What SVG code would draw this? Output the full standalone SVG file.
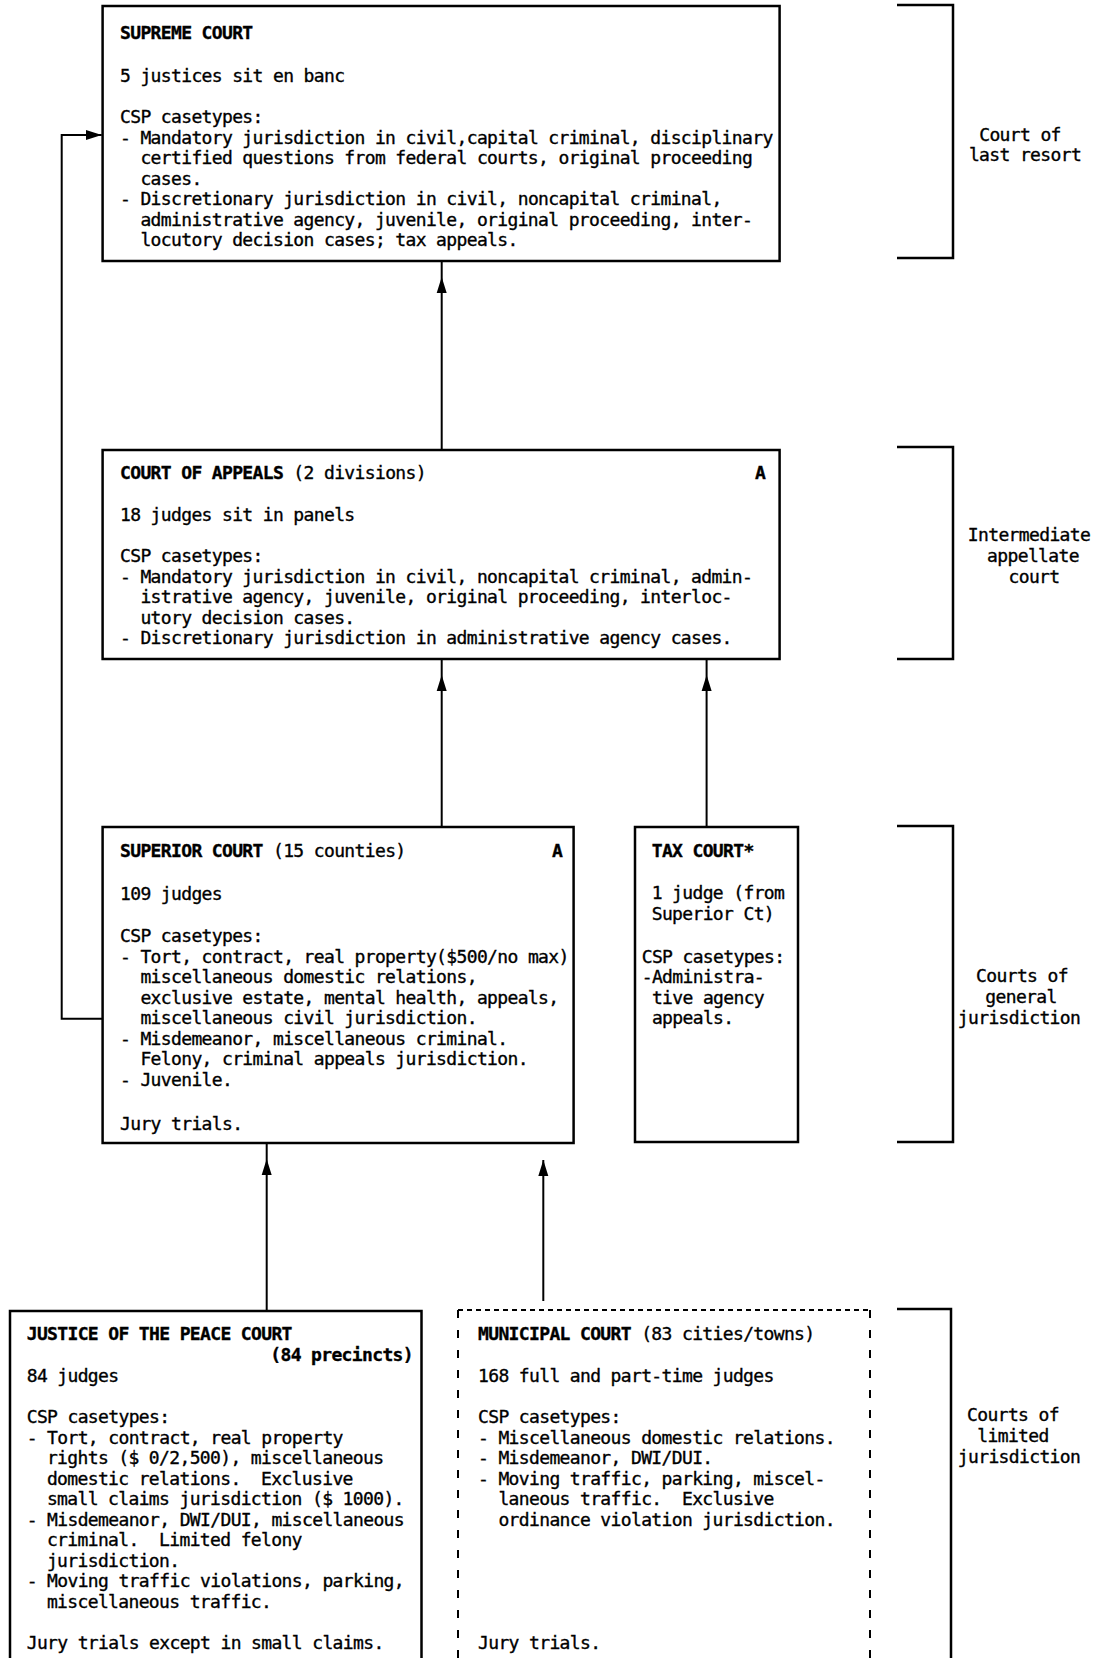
<svg xmlns="http://www.w3.org/2000/svg" width="1098" height="1658" viewBox="0 0 1098 1658">
  <style>
    text { font-family: "DejaVu Sans Mono", "Liberation Mono", monospace; font-size: 18px; letter-spacing: -0.64px; fill: #000; stroke: #000; stroke-width: 0.35px; white-space: pre; }
    .b { font-weight: bold; }
    .lbl { text-anchor: middle; }
    .box { fill: #fff; stroke: #000; stroke-width: 2.5; }
    .brk { fill: none; stroke: #000; stroke-width: 2.5; }
    .ln { fill: none; stroke: #000; stroke-width: 2; }
    .dh { fill: none; stroke: #000; stroke-width: 2; stroke-dasharray: 5 4; }
    .dv { fill: none; stroke: #000; stroke-width: 2; stroke-dasharray: 8 12; }
  </style>
  <defs>
    <marker id="arrow" markerUnits="userSpaceOnUse" markerWidth="17" markerHeight="12" refX="16" refY="6" orient="auto">
      <path d="M0,1 L16,6 L0,11 z" fill="#000"/>
    </marker>
  </defs>
  <rect width="1098" height="1658" fill="#fff"/>

  <!-- connectors -->
  <g id="connectors">
    <path class="ln" d="M441.7,450 V277" marker-end="url(#arrow)"/>
    <path class="ln" d="M441.7,277 V261"/>
    <path class="ln" d="M102.6,1018.7 H61.7 V135 H101.7" marker-end="url(#arrow)"/>
    <path class="ln" d="M441.7,827 V675" marker-end="url(#arrow)"/>
    <path class="ln" d="M441.7,675 V659"/>
    <path class="ln" d="M706.6,827 V675" marker-end="url(#arrow)"/>
    <path class="ln" d="M706.6,675 V659"/>
    <path class="ln" d="M266.7,1311 V1159" marker-end="url(#arrow)"/>
    <path class="ln" d="M266.7,1159 V1143"/>
    <path class="ln" d="M543.3,1301 V1160" marker-end="url(#arrow)"/>
  </g>

  <!-- tier brackets and their labels -->
  <g id="tier-last-resort">
    <path class="brk" d="M897,5 H953 V258 H897"/>
    <text class="lbl" x="1020" y="141">Court of</text>
    <text class="lbl" x="1025" y="161">last resort</text>
  </g>
  <g id="tier-intermediate">
    <path class="brk" d="M897,447 H953 V659 H897"/>
    <text class="lbl" x="1029" y="541">Intermediate</text>
    <text class="lbl" x="1033" y="562">appellate</text>
    <text class="lbl" x="1034" y="583">court</text>
  </g>
  <g id="tier-general">
    <path class="brk" d="M897,826 H953 V1142 H897"/>
    <text class="lbl" x="1022" y="982">Courts of</text>
    <text class="lbl" x="1021" y="1003">general</text>
    <text class="lbl" x="1019" y="1024">jurisdiction</text>
  </g>
  <g id="tier-limited">
    <path class="brk" d="M897,1309 H951 V1680"/>
    <text class="lbl" x="1013" y="1421">Courts of</text>
    <text class="lbl" x="1013" y="1442">limited</text>
    <text class="lbl" x="1019" y="1463">jurisdiction</text>
  </g>

  <!-- courts -->
  <g id="supreme-court">
    <rect class="box" x="102.6" y="6" width="677" height="255"/>
    <text class="b" x="120" y="39">SUPREME COURT</text>
    <text x="120" y="81.5">5 justices sit en banc</text>
    <text x="120" y="123">CSP casetypes:</text>
    <text x="120" y="143.5">- Mandatory jurisdiction in civil,capital criminal, disciplinary</text>
    <text x="140.4" y="164">certified questions from federal courts, original proceeding</text>
    <text x="140.4" y="184.5">cases.</text>
    <text x="120" y="205">- Discretionary jurisdiction in civil, noncapital criminal,</text>
    <text x="140.4" y="225.5">administrative agency, juvenile, original proceeding, inter-</text>
    <text x="140.4" y="246">locutory decision cases; tax appeals.</text>
  </g>

  <g id="court-of-appeals">
    <rect class="box" x="102.6" y="450" width="677" height="209"/>
    <text x="120" y="479"><tspan class="b">COURT OF APPEALS</tspan> (2 divisions)</text>
    <text class="b" x="755" y="479">A</text>
    <text x="120" y="521">18 judges sit in panels</text>
    <text x="120" y="562">CSP casetypes:</text>
    <text x="120" y="582.5">- Mandatory jurisdiction in civil, noncapital criminal, admin-</text>
    <text x="140.4" y="603">istrative agency, juvenile, original proceeding, interloc-</text>
    <text x="140.4" y="623.5">utory decision cases.</text>
    <text x="120" y="644">- Discretionary jurisdiction in administrative agency cases.</text>
  </g>

  <g id="superior-court">
    <rect class="box" x="102.6" y="827" width="471" height="316"/>
    <text x="120" y="857"><tspan class="b">SUPERIOR COURT</tspan> (15 counties)</text>
    <text class="b" x="552" y="857">A</text>
    <text x="120" y="900">109 judges</text>
    <text x="120" y="942">CSP casetypes:</text>
    <text x="120" y="962.5">- Tort, contract, real property($500/no max)</text>
    <text x="140.4" y="983">miscellaneous domestic relations,</text>
    <text x="140.4" y="1003.5">exclusive estate, mental health, appeals,</text>
    <text x="140.4" y="1024">miscellaneous civil jurisdiction.</text>
    <text x="120" y="1044.5">- Misdemeanor, miscellaneous criminal.</text>
    <text x="140.4" y="1065">Felony, criminal appeals jurisdiction.</text>
    <text x="120" y="1085.5">- Juvenile.</text>
    <text x="120" y="1130">Jury trials.</text>
  </g>

  <g id="tax-court">
    <rect class="box" x="635" y="827" width="163" height="315"/>
    <text class="b" x="651.7" y="857">TAX COURT*</text>
    <text x="651.7" y="899">1 judge (from</text>
    <text x="651.7" y="919.5">Superior Ct)</text>
    <text x="641.7" y="962.5">CSP casetypes:</text>
    <text x="641.7" y="983">-Administra-</text>
    <text x="651.9" y="1003.5">tive agency</text>
    <text x="651.9" y="1024">appeals.</text>
  </g>

  <g id="justice-of-the-peace-court">
    <rect class="box" x="10" y="1311" width="411.5" height="380"/>
    <text class="b" x="26.7" y="1340">JUSTICE OF THE PEACE COURT</text>
    <text class="b" x="413" y="1361" text-anchor="end">(84 precincts)</text>
    <text x="26.7" y="1382">84 judges</text>
    <text x="26.7" y="1423">CSP casetypes:</text>
    <text x="26.7" y="1443.5">- Tort, contract, real property</text>
    <text x="46.9" y="1464">rights ($ 0/2,500), miscellaneous</text>
    <text x="46.9" y="1484.5">domestic relations.  Exclusive</text>
    <text x="46.9" y="1505">small claims jurisdiction ($ 1000).</text>
    <text x="26.7" y="1525.5">- Misdemeanor, DWI/DUI, miscellaneous</text>
    <text x="46.9" y="1546">criminal.  Limited felony</text>
    <text x="46.9" y="1566.5">jurisdiction.</text>
    <text x="26.7" y="1587">- Moving traffic violations, parking,</text>
    <text x="46.9" y="1607.5">miscellaneous traffic.</text>
    <text x="26.7" y="1648.5">Jury trials except in small claims.</text>
  </g>

  <g id="municipal-court">
    <path class="dh" d="M458,1310 H870"/>
    <path class="dv" d="M458,1310 V1690"/>
    <path class="dv" d="M870,1310 V1690"/>
    <text x="478" y="1340"><tspan class="b">MUNICIPAL COURT</tspan> (83 cities/towns)</text>
    <text x="478" y="1382">168 full and part-time judges</text>
    <text x="478" y="1423">CSP casetypes:</text>
    <text x="478" y="1443.5">- Miscellaneous domestic relations.</text>
    <text x="478" y="1464">- Misdemeanor, DWI/DUI.</text>
    <text x="478" y="1484.5">- Moving traffic, parking, miscel-</text>
    <text x="498.4" y="1505">laneous traffic.  Exclusive</text>
    <text x="498.4" y="1525.5">ordinance violation jurisdiction.</text>
    <text x="478" y="1648.5">Jury trials.</text>
  </g>
</svg>
